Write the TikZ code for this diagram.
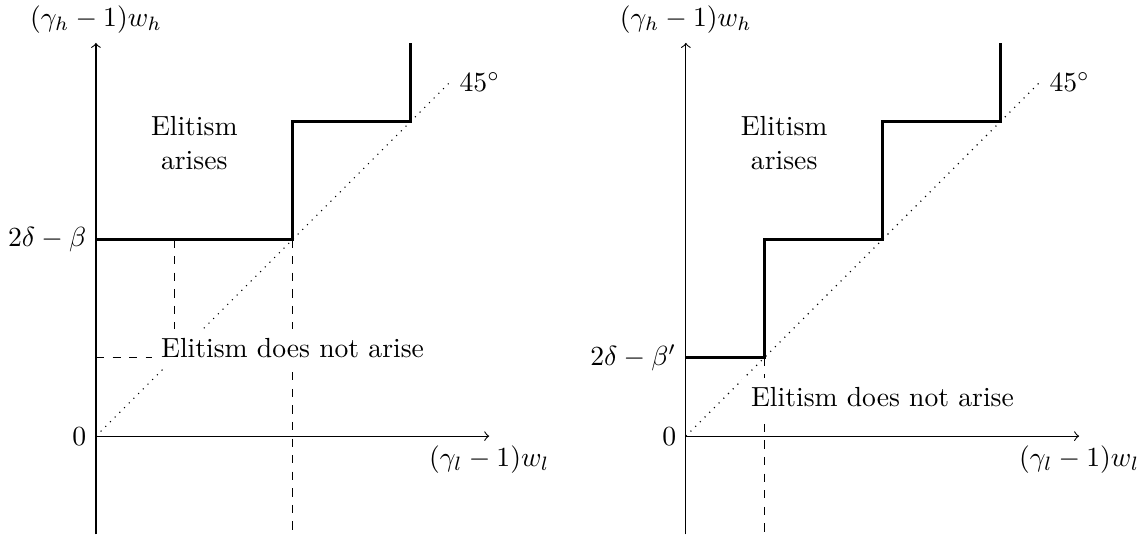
\documentclass[tikz,border=0pt]{standalone}
\begin{document}
\begin{tikzpicture}[x=0.5cm,y=0.5cm,
  axis/.style={->},
  stair/.style={thick},
  guide/.style={dashed},
  diag/.style={dotted},
  region/.style={fill=white,align=center}]
\useasboundingbox (-2.44,-2.56) rectangle (26.70,11.09);
% ---------- left panel ----------
\coordinate (LO) at (0,0);
\coordinate (LYb) at (0,-2.5);
\coordinate (LYt) at (0,10);
\coordinate (LXr) at (10,0);
\coordinate (LA) at (0,5);
\coordinate (LB) at (5,5);
\coordinate (LC) at (5,8);
\coordinate (LD) at (8,8);
\coordinate (LE) at (8,10);
\coordinate (LD45) at (9,9);
\coordinate (LG1) at (2,5);
\coordinate (LG2) at (2,2);
\coordinate (LG3) at (0,2);
\coordinate (LG4) at (5,-2.5);
\draw[axis] (LYb) -- (LYt);
\draw[axis] (LO) -- (LXr);
\draw[diag] (LO) -- (LD45);
\draw[guide] (LG1) -- (LG2);
\draw[guide] (LG3) -- (LG2);
\draw[guide] (LB) -- (LG4);
\draw[stair] (LA) -- (LB) -- (LC) -- (LD) -- (LE);
\node[left] (l0) at (LO) {$0$};
\node[left] (lbeta) at (LA) {$2\delta-\beta$};
\node[above] (lyl) at (LYt) {$(\gamma_h-1)w_h$};
\node[below] (lxl) at (LXr) {$(\gamma_l-1)w_l$};
\node[right] (l45) at (LD45) {$45^\circ$};
\node[region] (lnot) at (5,2.25) {Elitism does not arise};
\node[align=center] (lyes) at (2.5,7.45) {Elitism\\arises};
% ---------- right panel ----------
\coordinate (RO) at (15,0);
\coordinate (RYb) at (15,-2.5);
\coordinate (RYt) at (15,10);
\coordinate (RXr) at (25,0);
\coordinate (RA) at (15,2);
\coordinate (RB) at (17,2);
\coordinate (RC) at (17,5);
\coordinate (RD) at (20,5);
\coordinate (RE) at (20,8);
\coordinate (RF) at (23,8);
\coordinate (RG) at (23,10);
\coordinate (RD45) at (24,9);
\coordinate (RG4) at (17,-2.5);
\draw[axis] (RYb) -- (RYt);
\draw[axis] (RO) -- (RXr);
\draw[diag] (RO) -- (RD45);
\draw[guide] (RB) -- (RG4);
\draw[stair] (RA) -- (RB) -- (RC) -- (RD) -- (RE) -- (RF) -- (RG);
\node[left] (r0) at (RO) {$0$};
\node[left] (rbeta) at (RA) {$2\delta-\beta'$};
\node[above] (ryl) at (RYt) {$(\gamma_h-1)w_h$};
\node[below] (rxl) at (RXr) {$(\gamma_l-1)w_l$};
\node[right] (r45) at (RD45) {$45^\circ$};
\node[region] (rnot) at (20,1) {Elitism does not arise};
\node[align=center] (ryes) at (17.5,7.45) {Elitism\\arises};
\end{tikzpicture}
\end{document}
